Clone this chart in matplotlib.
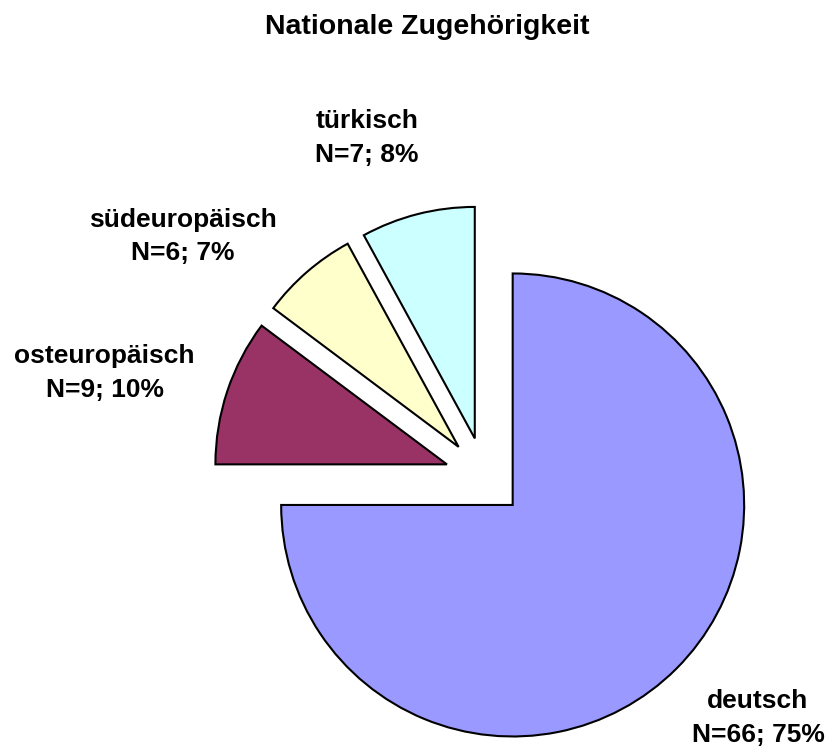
import matplotlib
matplotlib.use("Agg")
import matplotlib.pyplot as plt

categories = ["deutsch", "osteuropäisch", "südeuropäisch", "türkisch"]
counts = [66, 9, 6, 7]
percents = [75, 10, 7, 8]
colors = ["#9999FF", "#993366", "#FFFFCC", "#CCFFFF"]
title = "Nationale Zugehörigkeit"

W, H = 832, 747
fig = plt.figure(figsize=(W / 100, H / 100), dpi=100)
ax = fig.add_axes([0, 0, 1, 1])
fam = ['Liberation Sans', 'DejaVu Sans']
plt.rcParams['font.family'] = fam

cx, cy = 484.6, H - 476.9
radius = 231.5
expl = 39.7

wedges, _ = ax.pie(counts, explode=[expl] * len(counts), radius=radius,
                   center=(cx, cy), startangle=90, counterclock=False,
                   colors=colors,
                   wedgeprops=dict(edgecolor="black", linewidth=1.5))

ax.set_xlim(0, W)
ax.set_ylim(0, H)
ax.set_aspect("equal")
ax.axis("off")

# label anchor: (x centre, baseline of first line, baseline of second line) in pixels from top
label_pos = [(758, 708.3, 741.7), (104.5, 363.3, 396.7),
             (183, 226.7, 260.0), (367, 128.3, 162.5)]
for (lx, b1, b2), cat, n, p in zip(label_pos, categories, counts, percents):
    ax.text(lx, H - b1, cat, ha="center", va="baseline",
            fontsize=19, fontweight="bold", family=fam)
    ax.text(lx, H - b2, f"N={n}; {p}%", ha="center", va="baseline",
            fontsize=19, fontweight="bold", family=fam)

ax.text(427, H - 34, title, ha="center", va="baseline", fontsize=20.5,
        fontweight="bold", family=fam)

fig.savefig("out.png", dpi=100)
